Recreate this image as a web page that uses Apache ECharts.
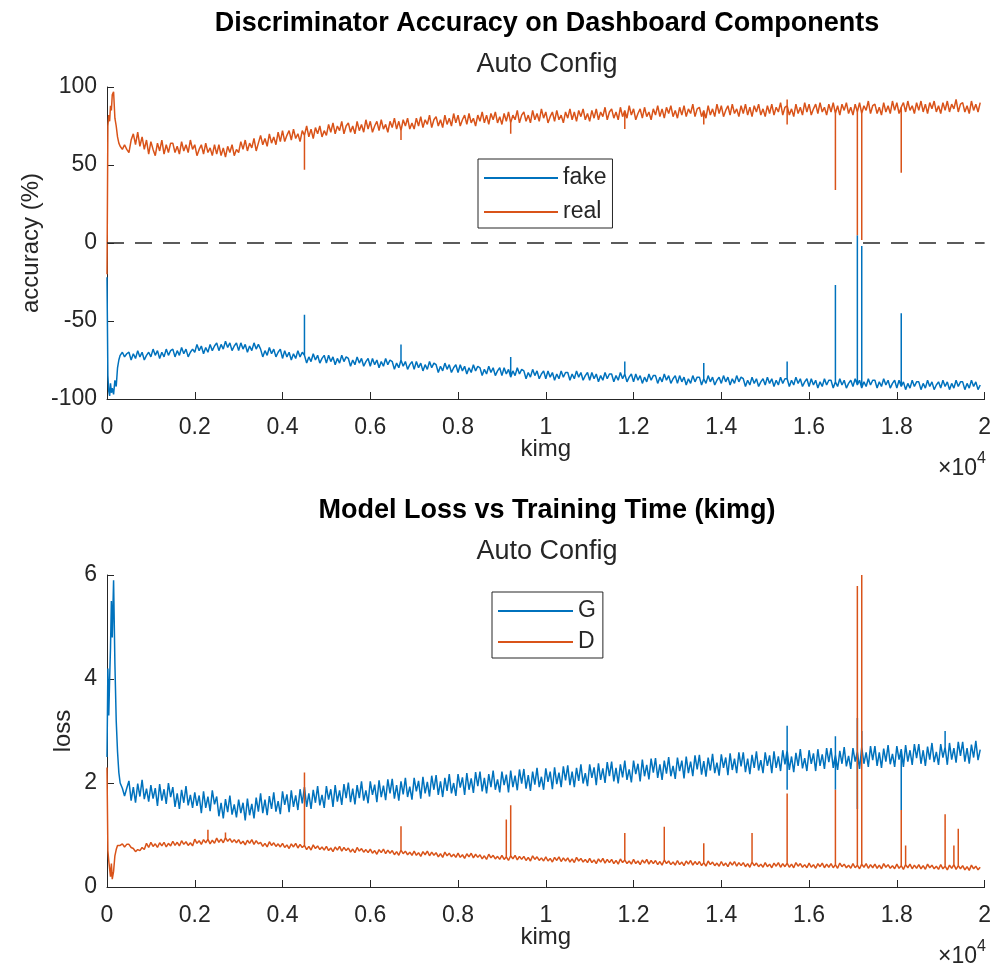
<!DOCTYPE html>
<html><head><meta charset="utf-8">
<script src="https://cdn.jsdelivr.net/npm/echarts@6/dist/echarts.min.js"></script>
<style>html,body{margin:0;padding:0;background:#fff}#c{width:994px;height:969px}</style>
</head><body><div id="c"></div><script>
// ---- data (x in kimg) ----
const earlyKimg = [0,20,40,60,80,100,120,150,180,210,240,270,300,350,400,450];
const earlyFake = [-22,-85,-95,-98,-90,-96,-93,-97,-88,-92,-80,-75,-72,-70,-73,-71];
const earlyReal = [-20,75,82,78,88,85,95,97,80,75,68,64,62,60,63,60];
const earlyG    = [2.5,4.2,3.3,4.0,4.6,5.5,4.8,5.9,4.3,3.2,2.6,2.2,2.0,1.9,1.75,1.9];
const earlyD    = [2.3,0.7,0.5,0.35,0.2,0.45,0.15,0.3,0.6,0.72,0.8,0.78,0.8,0.83,0.77,0.82];

const gridStart = 500, gridStep = 50; // regular samples 500 .. 19900 kimg

const realAcc = [
 58,66,70,63,71,62,68,60,66,57,65,60,56,64,59,66,57,63,58,64,
 64,58,62,57,65,59,63,58,66,60,63,56,60,63,57,64,58,61,56,63,
 57,63,56,61,55,62,58,63,56,60,58,65,60,66,59,64,61,67,59,64,
 69,63,67,62,70,64,68,63,71,65,72,65,69,72,66,73,67,70,65,72,
 69,75,68,73,67,74,70,75,68,72,69,76,71,77,70,75,72,78,70,75,
 77,71,75,70,78,72,76,71,79,73,78,71,75,78,72,79,73,76,71,78,
 74,80,73,78,72,79,75,80,73,77,73,80,75,81,74,79,76,82,74,79,
 81,75,79,74,82,76,80,75,83,77,82,75,79,82,76,83,77,80,75,82,
 78,84,77,82,76,83,79,84,77,81,76,83,78,84,77,82,79,85,77,82,
 84,78,82,77,85,79,83,78,86,80,84,77,81,84,78,85,79,82,77,84,
 80,86,79,84,78,85,81,86,79,83,78,85,80,86,79,84,81,87,79,84,
 86,80,84,79,87,81,85,80,88,82,86,79,83,86,80,87,81,84,79,86,
 82,88,81,86,80,87,83,88,81,85,80,87,82,88,81,86,83,89,81,86,
 87,81,85,80,88,82,86,81,89,83,88,81,85,88,82,89,83,86,81,88,
 83,89,82,87,81,88,84,89,82,86,81,88,83,89,82,87,84,90,82,87,
 88,82,86,81,89,83,87,82,90,84,89,82,86,89,83,90,84,87,82,89,
 84,90,83,88,82,89,85,90,83,87,82,89,84,90,83,88,85,91,83,88,
 89,83,87,82,90,84,88,83,91,85,90,83,87,90,84,91,85,88,83,90,
 85,91,84,89,83,90,86,91,84,88,83,90,85,91,84,89,86,92,84,89,
 90,84,88,83,91,85,89,84,90];
const fakeAcc = [
 -70,-75,-71,-74,-69,-73,-70,-75,-72,-70,-73,-68,-72,-69,-74,-70,-73,-68,-72,-69,
 -68,-73,-69,-72,-67,-71,-68,-73,-70,-68,-70,-65,-69,-66,-71,-67,-70,-65,-69,-66,
 -64,-69,-65,-68,-63,-67,-64,-69,-66,-64,-69,-64,-68,-65,-70,-66,-69,-64,-68,-65,
 -68,-73,-69,-72,-67,-71,-68,-73,-70,-68,-74,-69,-73,-70,-75,-71,-74,-69,-73,-70,
 -72,-77,-73,-76,-71,-75,-72,-77,-74,-72,-77,-72,-76,-73,-78,-74,-77,-72,-76,-73,
 -74,-79,-75,-78,-73,-77,-74,-79,-76,-74,-79,-74,-78,-75,-80,-76,-79,-74,-78,-75,
 -76,-81,-77,-80,-75,-79,-76,-81,-78,-76,-81,-76,-80,-77,-82,-78,-81,-76,-80,-77,
 -78,-83,-79,-82,-77,-81,-78,-83,-80,-78,-83,-78,-82,-79,-84,-80,-83,-78,-82,-79,
 -80,-85,-81,-84,-79,-83,-80,-85,-82,-80,-85,-80,-84,-81,-86,-82,-85,-80,-84,-81,
 -82,-87,-83,-86,-81,-85,-82,-87,-84,-82,-87,-82,-86,-83,-88,-84,-87,-82,-86,-83,
 -83,-88,-84,-87,-82,-86,-83,-88,-85,-83,-88,-83,-87,-84,-89,-85,-88,-83,-87,-84,
 -84,-89,-85,-88,-83,-87,-84,-89,-86,-84,-89,-84,-88,-85,-90,-86,-89,-84,-88,-85,
 -85,-90,-86,-89,-84,-88,-85,-90,-87,-85,-90,-85,-89,-86,-91,-87,-90,-85,-89,-86,
 -86,-91,-87,-90,-85,-89,-86,-91,-88,-86,-90,-85,-89,-86,-91,-87,-90,-85,-89,-86,
 -87,-92,-88,-91,-86,-90,-87,-92,-89,-87,-91,-86,-90,-87,-92,-88,-91,-86,-90,-87,
 -87,-92,-88,-91,-86,-90,-87,-92,-89,-87,-92,-87,-91,-88,-93,-89,-92,-87,-91,-88,
 -88,-93,-89,-92,-87,-91,-88,-93,-90,-88,-92,-87,-91,-88,-93,-89,-92,-87,-91,-88,
 -88,-93,-89,-92,-87,-91,-88,-93,-90,-88,-93,-88,-92,-89,-94,-90,-93,-88,-92,-89,
 -89,-94,-90,-93,-88,-92,-89,-94,-91,-89,-93,-88,-92,-89,-94,-90,-93,-88,-92,-89,
 -89,-94,-90,-93,-88,-92,-89,-94,-91];
const lossG = [
 2.04,1.66,1.92,1.62,1.99,1.74,2.06,1.69,1.89,1.64,1.96,1.70,1.90,1.56,1.98,1.66,1.88,1.60,2.00,1.73,
 1.92,1.54,1.80,1.50,1.87,1.62,1.94,1.57,1.77,1.52,1.82,1.56,1.76,1.42,1.84,1.52,1.74,1.46,1.86,1.59,
 1.74,1.36,1.62,1.32,1.69,1.44,1.76,1.39,1.59,1.34,1.68,1.42,1.62,1.28,1.70,1.38,1.60,1.32,1.72,1.45,
 1.80,1.42,1.68,1.38,1.75,1.50,1.82,1.45,1.65,1.40,1.84,1.58,1.78,1.44,1.86,1.54,1.76,1.48,1.88,1.61,
 1.92,1.54,1.80,1.50,1.87,1.62,1.94,1.57,1.77,1.52,1.94,1.68,1.88,1.54,1.96,1.64,1.86,1.58,1.98,1.71,
 2.01,1.63,1.89,1.59,1.96,1.71,2.03,1.66,1.86,1.61,2.03,1.77,1.97,1.63,2.05,1.73,1.95,1.67,2.07,1.80,
 2.08,1.70,1.96,1.66,2.03,1.78,2.10,1.73,1.93,1.68,2.10,1.84,2.04,1.70,2.12,1.80,2.02,1.74,2.14,1.87,
 2.15,1.77,2.03,1.73,2.10,1.85,2.17,1.80,2.00,1.75,2.17,1.91,2.11,1.77,2.19,1.87,2.09,1.81,2.21,1.94,
 2.22,1.84,2.10,1.80,2.17,1.92,2.24,1.87,2.07,1.82,2.22,1.96,2.16,1.82,2.24,1.92,2.14,1.86,2.26,1.99,
 2.27,1.89,2.15,1.85,2.22,1.97,2.29,1.92,2.12,1.87,2.28,2.02,2.22,1.88,2.30,1.98,2.20,1.92,2.32,2.05,
 2.34,1.96,2.22,1.92,2.29,2.04,2.36,1.99,2.19,1.94,2.36,2.10,2.30,1.96,2.38,2.06,2.28,2.00,2.40,2.13,
 2.41,2.03,2.29,1.99,2.36,2.11,2.43,2.06,2.26,2.01,2.43,2.17,2.37,2.03,2.45,2.13,2.35,2.07,2.47,2.20,
 2.48,2.10,2.36,2.06,2.43,2.18,2.50,2.13,2.33,2.08,2.49,2.23,2.43,2.09,2.51,2.19,2.41,2.13,2.53,2.26,
 2.54,2.16,2.42,2.12,2.49,2.24,2.56,2.19,2.39,2.14,2.55,2.29,2.49,2.15,2.57,2.25,2.47,2.19,2.59,2.32,
 2.59,2.21,2.47,2.17,2.54,2.29,2.61,2.24,2.44,2.19,2.59,2.33,2.53,2.19,2.61,2.29,2.51,2.23,2.63,2.36,
 2.63,2.25,2.51,2.21,2.58,2.33,2.65,2.28,2.48,2.23,2.63,2.37,2.57,2.23,2.65,2.33,2.55,2.27,2.67,2.40,
 2.67,2.29,2.55,2.25,2.62,2.37,2.69,2.32,2.52,2.27,2.67,2.41,2.61,2.27,2.69,2.37,2.59,2.31,2.71,2.44,
 2.71,2.33,2.59,2.29,2.66,2.41,2.73,2.36,2.56,2.31,2.71,2.45,2.65,2.31,2.73,2.41,2.63,2.35,2.75,2.48,
 2.75,2.37,2.63,2.33,2.70,2.45,2.77,2.40,2.60,2.35,2.75,2.49,2.69,2.35,2.77,2.45,2.67,2.39,2.79,2.52,
 2.79,2.41,2.67,2.37,2.74,2.49,2.81,2.44,2.64];
const lossD = [
 0.82,0.76,0.74,0.68,0.72,0.70,0.76,0.72,0.84,0.76,0.86,0.78,0.83,0.76,0.85,0.79,0.86,0.77,0.84,0.79,
 0.88,0.80,0.86,0.79,0.89,0.82,0.87,0.80,0.85,0.79,0.92,0.84,0.89,0.82,0.91,0.85,0.92,0.83,0.90,0.84,
 0.94,0.86,0.92,0.85,0.95,0.88,0.93,0.86,0.91,0.85,0.91,0.83,0.88,0.81,0.90,0.84,0.91,0.82,0.89,0.83,
 0.86,0.78,0.84,0.77,0.87,0.80,0.85,0.78,0.83,0.77,0.84,0.76,0.81,0.74,0.83,0.77,0.84,0.75,0.82,0.76,
 0.80,0.72,0.78,0.71,0.81,0.74,0.79,0.72,0.77,0.71,0.78,0.70,0.75,0.68,0.77,0.71,0.78,0.69,0.76,0.70,
 0.75,0.67,0.73,0.66,0.76,0.69,0.74,0.67,0.72,0.66,0.73,0.65,0.70,0.63,0.72,0.66,0.73,0.64,0.71,0.65,
 0.70,0.62,0.68,0.61,0.71,0.64,0.69,0.62,0.67,0.61,0.69,0.61,0.66,0.59,0.68,0.62,0.69,0.60,0.67,0.61,
 0.66,0.58,0.64,0.57,0.67,0.60,0.65,0.58,0.63,0.57,0.65,0.57,0.62,0.55,0.64,0.58,0.65,0.56,0.63,0.57,
 0.62,0.54,0.60,0.53,0.63,0.56,0.61,0.54,0.59,0.53,0.61,0.53,0.58,0.51,0.60,0.54,0.61,0.52,0.59,0.53,
 0.59,0.51,0.57,0.50,0.60,0.53,0.58,0.51,0.56,0.50,0.58,0.50,0.55,0.48,0.57,0.51,0.58,0.49,0.56,0.50,
 0.56,0.48,0.54,0.47,0.57,0.50,0.55,0.48,0.53,0.47,0.55,0.47,0.52,0.45,0.54,0.48,0.55,0.46,0.53,0.47,
 0.53,0.45,0.51,0.44,0.54,0.47,0.52,0.45,0.50,0.44,0.53,0.45,0.50,0.43,0.52,0.46,0.53,0.44,0.51,0.45,
 0.51,0.43,0.49,0.42,0.52,0.45,0.50,0.43,0.48,0.42,0.51,0.43,0.48,0.41,0.50,0.44,0.51,0.42,0.49,0.43,
 0.49,0.41,0.47,0.40,0.50,0.43,0.48,0.41,0.46,0.40,0.49,0.41,0.46,0.39,0.48,0.42,0.49,0.40,0.47,0.41,
 0.47,0.39,0.45,0.38,0.48,0.41,0.46,0.39,0.44,0.38,0.47,0.39,0.44,0.37,0.46,0.40,0.47,0.38,0.45,0.39,
 0.46,0.38,0.44,0.37,0.47,0.40,0.45,0.38,0.43,0.37,0.46,0.38,0.43,0.36,0.45,0.39,0.46,0.37,0.44,0.38,
 0.45,0.37,0.43,0.36,0.46,0.39,0.44,0.37,0.42,0.36,0.45,0.37,0.42,0.35,0.44,0.38,0.45,0.36,0.43,0.37,
 0.44,0.36,0.42,0.35,0.45,0.38,0.43,0.36,0.41,0.35,0.44,0.36,0.41,0.34,0.43,0.37,0.44,0.35,0.42,0.36,
 0.43,0.35,0.41,0.34,0.44,0.37,0.42,0.35,0.40,0.34,0.43,0.35,0.40,0.33,0.42,0.36,0.43,0.34,0.41,0.35,
 0.41,0.33,0.39,0.32,0.42,0.35,0.40,0.33,0.38];

// single-sample spikes [kimg, value]
const fakeSpikes = [[4500,-46],[6700,-65],[9200,-73],[11800,-76],[13600,-77],[15500,-76],[16600,-27],[17100,5],[17200,-2],[18100,-45]];
const realSpikes = [[4500,47],[6700,66],[9200,70],[11800,73],[13600,76],[15500,76],[15500,92],[16600,34],[17100,5],[17200,2],[18100,45]];
const gSpikes = [[15500,3.1],[15500,1.87],[16600,2.9],[16600,1.87],[17100,3.25],[17100,1.5],[17200,3.0],[18100,1.48],[19100,3.0]];
const dSpikes = [[2300,1.1],[2700,1.05],[4500,2.2],[6700,1.17],[9100,1.3],[9200,1.57],[11800,1.04],[12700,1.16],[13600,0.84],[14700,1.04],[15500,1.8],[16600,1.87],[17100,5.79],[17200,6.0],[18100,1.48],[18200,0.8],[19100,1.4],[19300,0.8],[19400,1.12]];

const xTickStep = 2000, xMax = 20000, xScale = 10000;
const accMin = -100, accMax = 100, accStep = 50, zeroRef = 0;
const lossMin = 0, lossMax = 6, lossStep = 2;

function build(early, main, spikes) {
  const pts = early.map((v, i) => [earlyKimg[i], v]);
  main.forEach((v, i) => {
    const k = gridStart + i * gridStep;
    pts.push([k, v]);
    spikes.filter(s => s[0] === k).forEach(s => { pts.push([k, s[1]]); pts.push([k, v]); });
  });
  return pts;
}

const INK = '#262626', FONT = 'Liberation Sans';
const BLUE = '#0072BD', ORANGE = '#D95319';

function xAxisCfg(idx) {
  return {
    type: 'value', gridIndex: idx, min: 0, max: xMax, interval: xTickStep,
    name: 'kimg', nameLocation: 'middle', nameGap: 38, nameMoveOverlap: false,
    nameTextStyle: { fontSize: 24, color: INK, fontFamily: FONT },
    axisLine: { show: true, onZero: false, lineStyle: { color: INK, width: 1 } },
    axisTick: { show: true, inside: true, length: 7, lineStyle: { color: INK } },
    axisLabel: { fontSize: 23, color: INK, fontFamily: FONT, margin: 17,
      formatter: v => String(+(v / xScale).toFixed(1)) },
    splitLine: { show: false }
  };
}
function yAxisCfg(idx, name, min, max, step, gap) {
  return {
    type: 'value', gridIndex: idx, min, max, interval: step,
    name, nameLocation: 'middle', nameGap: gap, nameMoveOverlap: false,
    nameTextStyle: { fontSize: 24, color: INK, fontFamily: FONT },
    axisLine: { show: true, onZero: false, lineStyle: { color: INK, width: 1 } },
    axisTick: { show: true, inside: true, length: 7, lineStyle: { color: INK } },
    axisLabel: { fontSize: 23, color: INK, fontFamily: FONT, margin: 10 },
    splitLine: { show: false }
  };
}
function lineSeries(name, color, data, xi, yi, extra) {
  return Object.assign({
    name, type: 'line', xAxisIndex: xi, yAxisIndex: yi, data,
    showSymbol: false, symbol: 'none', sampling: false, clip: true,
    lineStyle: { color, width: 1.5 }, itemStyle: { color }, z: 2
  }, extra || {});
}

const chart = echarts.init(document.getElementById('c'), null, { renderer: 'canvas' });
chart.setOption({
  animation: false,
  backgroundColor: '#fff',
  textStyle: { fontFamily: FONT, color: INK },
  title: [
    { text: 'Discriminator Accuracy on Dashboard Components', left: 547, top: 10, textAlign: 'center', padding: 0,
      textStyle: { fontSize: 27, fontWeight: 'bold', color: '#000', fontFamily: FONT } },
    { text: 'Auto Config', left: 547, top: 51, textAlign: 'center', padding: 0,
      textStyle: { fontSize: 27, fontWeight: 'normal', color: INK, fontFamily: FONT } },
    { text: 'Model Loss vs Training Time (kimg)', left: 547, top: 497, textAlign: 'center', padding: 0,
      textStyle: { fontSize: 27, fontWeight: 'bold', color: '#000', fontFamily: FONT } },
    { text: 'Auto Config', left: 547, top: 538, textAlign: 'center', padding: 0,
      textStyle: { fontSize: 27, fontWeight: 'normal', color: INK, fontFamily: FONT } }
  ],
  legend: [
    { data: ['fake', 'real'], orient: 'vertical', left: 478, top: 159, icon: 'rect',
      itemWidth: 74, itemHeight: 2, itemGap: 8, padding: [6, 6, 3, 6],
      borderColor: INK, borderWidth: 1, backgroundColor: '#fff',
      textStyle: { fontSize: 23, color: INK, fontFamily: FONT, lineHeight: 26 } },
    { data: ['G', 'D'], orient: 'vertical', left: 492, top: 592, icon: 'rect',
      itemWidth: 75, itemHeight: 2, itemGap: 5, padding: [6, 7, 3, 6],
      borderColor: INK, borderWidth: 1, backgroundColor: '#fff',
      textStyle: { fontSize: 23, color: INK, fontFamily: FONT, lineHeight: 26 } }
  ],
  grid: [
    { left: 107, top: 87, width: 879, height: 312 },
    { left: 107, top: 575, width: 879, height: 312 }
  ],
  xAxis: [xAxisCfg(0), xAxisCfg(1)],
  yAxis: [
    yAxisCfg(0, 'accuracy (%)', accMin, accMax, accStep, 64),
    yAxisCfg(1, 'loss', lossMin, lossMax, lossStep, 32)
  ],
  series: [
    lineSeries('fake', BLUE, build(earlyFake, fakeAcc, fakeSpikes), 0, 0, {
      markLine: { silent: true, symbol: ['none', 'none'], label: { show: false },
        lineStyle: { type: [17, 11], color: INK, width: 1.5 }, data: [{ yAxis: zeroRef }] }
    }),
    lineSeries('real', ORANGE, build(earlyReal, realAcc, realSpikes), 0, 0),
    lineSeries('G', BLUE, build(earlyG, lossG, gSpikes), 1, 1),
    lineSeries('D', ORANGE, build(earlyD, lossD, dSpikes), 1, 1)
  ],
  graphic: [
    { type: 'text', style: { text: '×10', x: 977, y: 469, align: 'right', verticalAlign: 'middle', textAlign: 'right', textVerticalAlign: 'middle', fontSize: 23, fontFamily: FONT, fill: INK } },
    { type: 'text', style: { text: '4', x: 977, y: 459, align: 'left', verticalAlign: 'middle', textAlign: 'left', textVerticalAlign: 'middle', fontSize: 16, fontFamily: FONT, fill: INK } },
    { type: 'text', style: { text: '×10', x: 977, y: 957, align: 'right', verticalAlign: 'middle', textAlign: 'right', textVerticalAlign: 'middle', fontSize: 23, fontFamily: FONT, fill: INK } },
    { type: 'text', style: { text: '4', x: 977, y: 947, align: 'left', verticalAlign: 'middle', textAlign: 'left', textVerticalAlign: 'middle', fontSize: 16, fontFamily: FONT, fill: INK } }
  ]
});
</script></body></html>
